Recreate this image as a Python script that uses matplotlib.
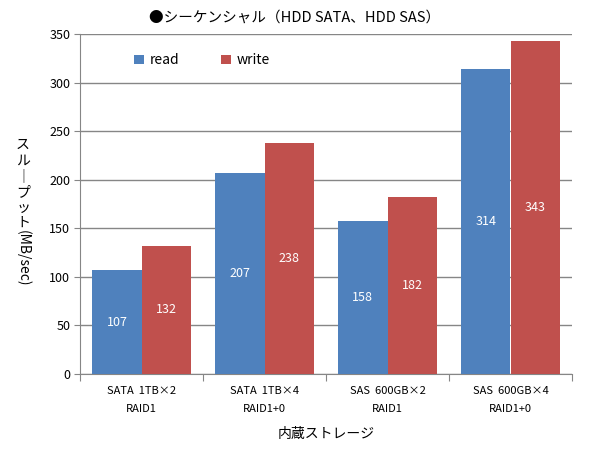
import numpy as np
import matplotlib
matplotlib.use("Agg")
import matplotlib.pyplot as plt

plt.rcParams['font.family'] = ['Noto Sans CJK JP', 'DejaVu Sans']

# data
categories = ["SATA  1TB×2\nRAID1", "SATA  1TB×4\nRAID1+0",
              "SAS  600GB×2\nRAID1", "SAS  600GB×4\nRAID1+0"]
read = [107, 207, 158, 314]
write = [132, 238, 182, 343]

c_read = "#4F81BD"
c_write = "#C0504D"
grid_c = "#868686"

fig = plt.figure(figsize=(5.9, 4.58), dpi=100)
ax = fig.add_axes([80/590, 1 - 374/458, 492/590, 340/458])

x = np.arange(len(categories))
w = 0.4
b1 = ax.bar(x - w/2, read, w, color=c_read, label="read", zorder=3)
b2 = ax.bar(x + w/2, write, w, color=c_write, label="write", zorder=3)

for bars in (b1, b2):
    for r in bars:
        h = r.get_height()
        ax.text(r.get_x() + r.get_width()/2, h/2, str(int(h)), ha="center",
                va="center", color="white", fontsize=9, zorder=4)

ax.set_xlim(-0.5, len(categories) - 0.5)
ax.set_ylim(0, 350)
ax.set_yticks(range(0, 351, 50))
ax.yaxis.grid(True, color=grid_c, linewidth=1, zorder=0)
ax.tick_params(axis="y", labelsize=9, length=4, color=grid_c, pad=3)

ax.set_xticks(np.arange(-0.5, len(categories)), minor=False)
ax.set_xticklabels([])
ax.set_xticks(x, minor=True)
ax.set_xticklabels(categories, minor=True, fontsize=8, linespacing=2.0)
ax.tick_params(axis="x", which="major", length=5, color=grid_c)
ax.tick_params(axis="x", which="minor", length=0, pad=9)

for s in ("top", "right"):
    ax.spines[s].set_visible(False)
for s in ("left", "bottom"):
    ax.spines[s].set_color(grid_c)

ax.set_xlabel("内蔵ストレージ", fontsize=10, labelpad=9)

# vertical y label
fig.text(23/590, 1 - 138/458, "ス\nル\n｜\nプ\nッ\nト", ha="center", va="top",
         fontsize=10, linespacing=1.15)
fig.text(23/590, 1 - 258/458, "(MB/sec)", ha="center", va="center",
         rotation=-90, fontsize=10)

fig.text(0.5, 1 - 18/458, "●シーケンシャル（HDD SATA、HDD SAS）", ha="center",
         va="center", fontsize=10.5)

ax.legend(loc="upper left", bbox_to_anchor=(0.085, 0.98), ncol=2, frameon=False,
          fontsize=10, handlelength=0.7, handleheight=0.7, columnspacing=3.0,
          handletextpad=0.4)

fig.savefig("out.png", dpi=100)
